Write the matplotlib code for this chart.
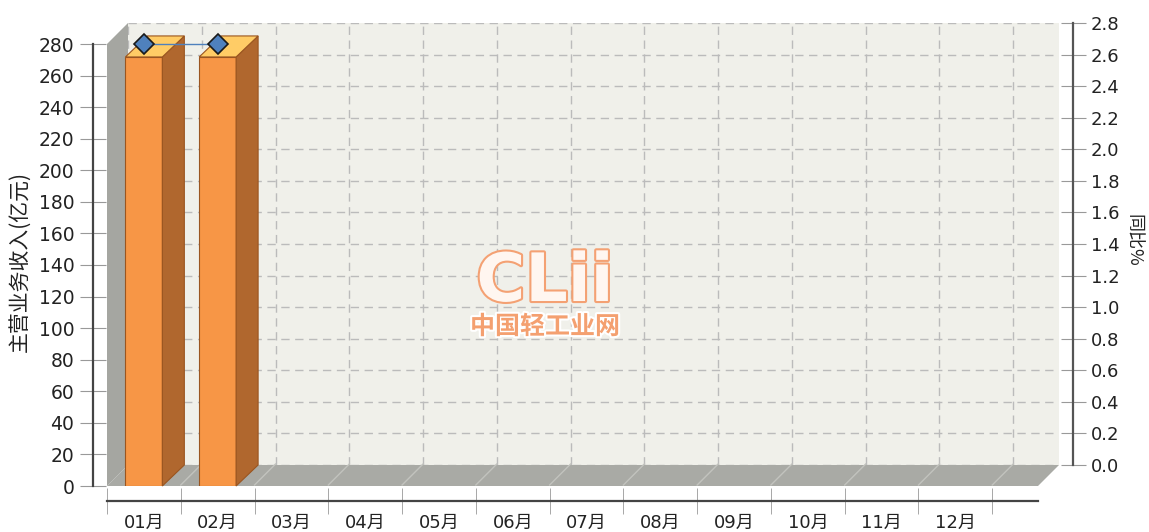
import numpy as np
import matplotlib
matplotlib.use('Agg')
import matplotlib.pyplot as plt
import matplotlib.transforms as mtransforms
import matplotlib.patheffects as pe
from matplotlib.patches import Polygon
from matplotlib.lines import Line2D

# data
months = ['01月', '02月', '03月', '04月', '05月', '06月',
          '07月', '08月', '09月', '10月', '11月', '12月']
revenue = [271.8, 271.8]      # 主营业务收入 (亿元)
growth = [2.67, 2.67]         # 同比 %

W, H = 1149, 532
D = 21  # depth of the 3D effect in pixels
font = ['DejaVu Sans', 'Noto Sans CJK SC']
cjk = ['Noto Sans CJK SC', 'DejaVu Sans']
plt.rcParams['font.family'] = font

fig = plt.figure(figsize=(W / 100, H / 100), dpi=100)
fig.patch.set_facecolor('white')


def box(l, t, r, b):
    return [l / W, (H - b) / H, (r - l) / W, (b - t) / H]


xlim = (-0.5, 12.12)
bounds = np.arange(-0.5, 12, 1)
rticks = np.arange(0, 2.81, 0.2)

# back wall with grid and right axis
ax_back = fig.add_axes(box(128, 23, 1059, 465), zorder=0)
ax_back.set_facecolor('#F0F0EA')
ax_back.set_xlim(xlim)
ax_back.set_ylim(0, 2.8)
ax_back.set_xticks(bounds)
ax_back.set_xticklabels([])
ax_back.tick_params(axis='x', length=0)
ax_back.set_yticks(rticks)
ax_back.set_yticklabels(['%.1f' % v for v in rticks])
ax_back.yaxis.tick_right()
ax_back.tick_params(axis='y', direction='inout', length=18, color='#999999', pad=4,
                    labelsize=13, labelcolor='#222222', labelfontfamily=font)
ax_back.grid(True, color='#BBBBBB', ls=(0, (6, 4)), lw=1)
for s in ['left', 'top', 'bottom']:
    ax_back.spines[s].set_visible(False)
ax_back.spines['right'].set_position(('outward', 10))
ax_back.spines['right'].set_color('#555555')
ax_back.spines['right'].set_linewidth(1.6)

# front plane with bars and left/bottom axes
ax = fig.add_axes(box(107, 44, 1038, 486), zorder=2)
ax.patch.set_visible(False)
ax.set_xlim(xlim)
ax.set_ylim(0, 280)
ax.set_yticks(range(0, 281, 20))
ax.tick_params(axis='y', direction='inout', length=19, color='#999999', pad=4,
               labelsize=13.5, labelcolor='#222222', labelfontfamily=font)
ax.set_xticks(range(12))
ax.set_xticklabels(months)
ax.tick_params(axis='x', which='major', length=0, pad=9,
               labelsize=13, labelcolor='#222222', labelfontfamily=font)
ax.set_xticks(bounds, minor=True)
ax.tick_params(axis='x', which='minor', direction='inout', length=19, color='#999999')
for s in ['top', 'right']:
    ax.spines[s].set_visible(False)
ax.spines['left'].set_position(('outward', 10))
ax.spines['bottom'].set_position(('outward', 11))
for s in ['left', 'bottom']:
    ax.spines[s].set_color('#444444')
    ax.spines[s].set_linewidth(1.6)

ident = mtransforms.IdentityTransform()
off = np.array([D, D])

# floor and side wall
c = ax.transAxes.transform([(0, 0), (1, 0), (0, 1)])
floor = [c[0], c[1], c[1] + off, c[0] + off]
side = [c[0], c[2], c[2] + off, c[0] + off]
fig.add_artist(Polygon(floor, closed=True, transform=ident, facecolor='#A9AAA5',
                       edgecolor='none', zorder=1))
fig.add_artist(Polygon(side, closed=True, transform=ident, facecolor='#A5A6A1',
                       edgecolor='none', zorder=1))
for b in bounds[1:]:
    p = ax.transData.transform((b, 0)) + np.array([0, 1])
    fig.add_artist(Line2D([p[0], p[0] + D], [p[1], p[1] + D], transform=ident,
                          color='#C2C3BE', lw=1, zorder=1))

# 3D bars
bw = 0.5
ax.bar(range(len(revenue)), revenue, width=bw, color='#F79646',
       edgecolor='#9A5520', linewidth=0.8, zorder=3)
boff = np.array([22, 21])
for i, v in enumerate(revenue):
    p = ax.transData.transform([(i + bw / 2, 0), (i + bw / 2, v), (i - bw / 2, v)])
    side_face = [p[0], p[1], p[1] + boff, p[0] + boff]
    top_face = [p[2], p[1], p[1] + boff, p[2] + boff]
    for pts, col in [(side_face, '#B0672E'), (top_face, '#FFCC66')]:
        poly = Polygon(pts, closed=True, transform=ident, facecolor=col,
                       edgecolor='#9A5520', lw=0.8, zorder=3)
        ax.add_artist(poly)
        poly.set_clip_on(False)

# growth line (right axis)
line_tr = ax_back.transData + mtransforms.Affine2D().translate(-D, 0)
ax.plot(range(len(growth)), growth, transform=line_tr, color='#4F81BD', lw=1,
        marker='D', ms=10, mfc='#4F81BD', mec='#1A1A1A', mew=1.2,
        zorder=5, clip_on=False)

# axis titles
fig.text(20 / W, 1 - 262 / H, '主营业务收入(亿元)', rotation=90, ha='center',
         va='center', fontsize=15, family=cjk, color='#222222')
fig.text(1133 / W, 1 - 240 / H, '同比%', rotation=-90, ha='center',
         va='center', fontsize=13, family=cjk, color='#222222')

# watermark
fig.text(545 / W, 1 - 282 / H, 'CLii', ha='center', va='center', fontsize=48,
         fontweight='bold', family='DejaVu Sans', color='#FFF6F0', zorder=6,
         path_effects=[pe.withStroke(linewidth=3, foreground='#F4A173')])
fig.text(545 / W, 1 - 327 / H, '中国轻工业网', ha='center', va='center',
         fontsize=18, fontweight='bold', family=cjk, color='#F4A070', zorder=6,
         path_effects=[pe.withStroke(linewidth=3, foreground='white')])

fig.savefig('out.png', dpi=100)
